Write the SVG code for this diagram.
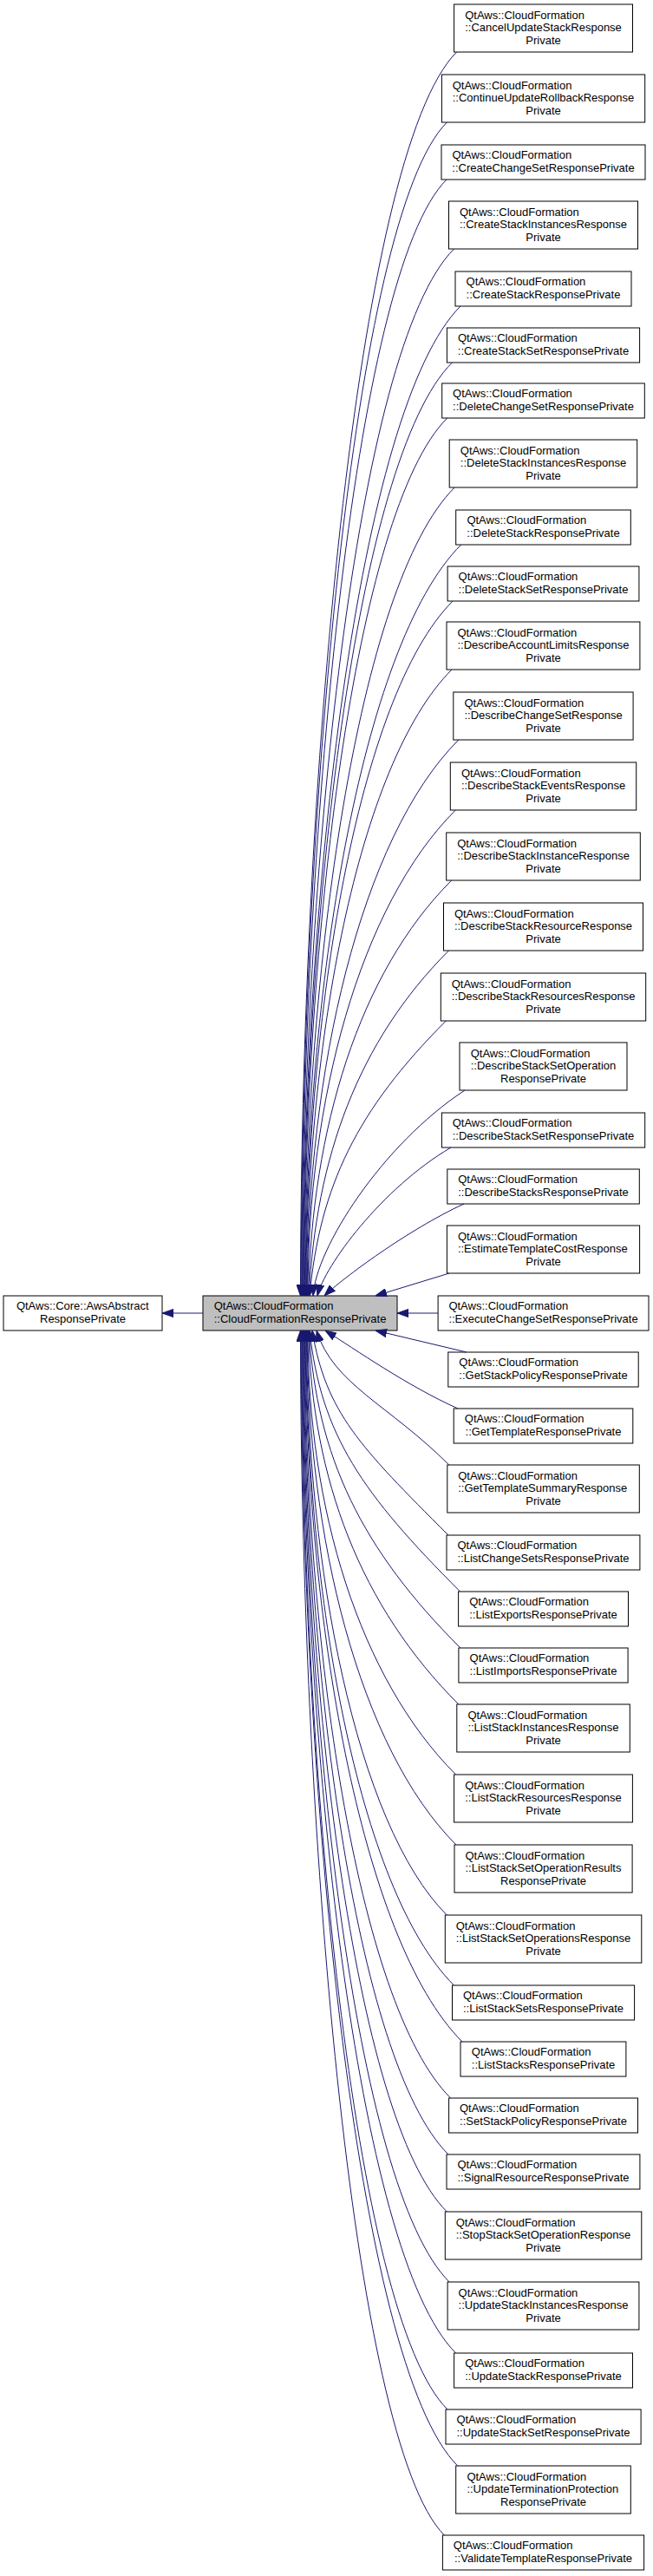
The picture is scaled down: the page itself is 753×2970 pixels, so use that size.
<svg xmlns="http://www.w3.org/2000/svg" width="753" height="2970" viewBox="0 0 753 2970">
<style>
.n rect{fill:#ffffff;stroke:#000000;stroke-width:1}
.n.c rect{fill:#bfbfbf}
text{font-family:"Liberation Sans",Arial,Helvetica,sans-serif;font-size:13px;fill:#000000}
.m{text-anchor:middle}
#edges path{fill:none;stroke:#191970;stroke-width:1;marker-end:url(#ah)}
</style>
<defs>
<marker id="ah" viewBox="0 0 13 10" refX="13" refY="5" markerWidth="13" markerHeight="10" markerUnits="userSpaceOnUse" orient="auto"><path d="M0,0.4 L13,5 L0,9.6 Z" fill="#191970" stroke="#191970" stroke-width="1"/></marker>
</defs>
<rect width="753" height="2970" fill="#ffffff"/>

<g id="base" class="n"><rect x="4" y="1494" width="183" height="40"/><text x="18.9" y="1510.25">QtAws::Core::AwsAbstract</text><text class="m" x="95.5" y="1524.75">ResponsePrivate</text></g>
<g id="center" class="n c"><rect x="234" y="1494" width="224" height="40"/><text x="246.7" y="1510.25">QtAws::CloudFormation</text><text x="246.7" y="1524.75">::CloudFormationResponsePrivate</text></g>

<g id="n1" class="n"><rect x="523.6" y="5" width="205.9" height="55"/><text x="536.2" y="21.5">QtAws::CloudFormation</text><text x="536.2" y="36">::CancelUpdateStackResponse</text><text class="m" x="626.5" y="50.5">Private</text></g>
<g id="n2" class="n"><rect x="509.4" y="86" width="234.3" height="55"/><text x="521.7" y="102.5">QtAws::CloudFormation</text><text x="521.7" y="117">::ContinueUpdateRollbackResponse</text><text class="m" x="626.5" y="131.5">Private</text></g>
<g id="n3" class="n"><rect x="509" y="167" width="235" height="40"/><text x="521.4" y="183.25">QtAws::CloudFormation</text><text class="m" x="626.5" y="197.75">::CreateChangeSetResponsePrivate</text></g>
<g id="n4" class="n"><rect x="517.5" y="232" width="218" height="55"/><text x="530" y="248.5">QtAws::CloudFormation</text><text x="530" y="263">::CreateStackInstancesResponse</text><text class="m" x="626.5" y="277.5">Private</text></g>
<g id="n5" class="n"><rect x="525" y="313" width="203" height="40"/><text x="537.6" y="329.25">QtAws::CloudFormation</text><text class="m" x="626.5" y="343.75">::CreateStackResponsePrivate</text></g>
<g id="n6" class="n"><rect x="515.4" y="378" width="222.2" height="40"/><text x="527.9" y="394.25">QtAws::CloudFormation</text><text class="m" x="626.5" y="408.75">::CreateStackSetResponsePrivate</text></g>
<g id="n7" class="n"><rect x="509.7" y="442" width="233.6" height="40"/><text x="522.1" y="458.25">QtAws::CloudFormation</text><text class="m" x="626.5" y="472.75">::DeleteChangeSetResponsePrivate</text></g>
<g id="n8" class="n"><rect x="518.2" y="507" width="216.5" height="55"/><text x="530.8" y="523.5">QtAws::CloudFormation</text><text x="530.8" y="538">::DeleteStackInstancesResponse</text><text class="m" x="626.5" y="552.5">Private</text></g>
<g id="n9" class="n"><rect x="525.7" y="588" width="201.6" height="40"/><text x="538.4" y="604.25">QtAws::CloudFormation</text><text class="m" x="626.5" y="618.75">::DeleteStackResponsePrivate</text></g>
<g id="n10" class="n"><rect x="516.1" y="653" width="220.8" height="40"/><text x="528.6" y="669.25">QtAws::CloudFormation</text><text class="m" x="626.5" y="683.75">::DeleteStackSetResponsePrivate</text></g>
<g id="n11" class="n"><rect x="515" y="717" width="222.9" height="55"/><text x="527.5" y="733.5">QtAws::CloudFormation</text><text x="527.5" y="748">::DescribeAccountLimitsResponse</text><text class="m" x="626.5" y="762.5">Private</text></g>
<g id="n12" class="n"><rect x="522.8" y="798" width="207.3" height="55"/><text x="535.5" y="814.5">QtAws::CloudFormation</text><text x="535.5" y="829">::DescribeChangeSetResponse</text><text class="m" x="626.5" y="843.5">Private</text></g>
<g id="n13" class="n"><rect x="519.3" y="879" width="214.4" height="55"/><text x="531.9" y="895.5">QtAws::CloudFormation</text><text x="531.9" y="910">::DescribeStackEventsResponse</text><text class="m" x="626.5" y="924.5">Private</text></g>
<g id="n14" class="n"><rect x="514.7" y="960" width="223.6" height="55"/><text x="527.2" y="976.5">QtAws::CloudFormation</text><text x="527.2" y="991">::DescribeStackInstanceResponse</text><text class="m" x="626.5" y="1005.5">Private</text></g>
<g id="n15" class="n"><rect x="511.5" y="1041" width="230" height="55"/><text x="523.9" y="1057.5">QtAws::CloudFormation</text><text x="523.9" y="1072">::DescribeStackResourceResponse</text><text class="m" x="626.5" y="1086.5">Private</text></g>
<g id="n16" class="n"><rect x="508.3" y="1122" width="236.4" height="55"/><text x="520.7" y="1138.5">QtAws::CloudFormation</text><text x="520.7" y="1153">::DescribeStackResourcesResponse</text><text class="m" x="626.5" y="1167.5">Private</text></g>
<g id="n17" class="n"><rect x="530" y="1202" width="193" height="55"/><text x="542.7" y="1218.5">QtAws::CloudFormation</text><text x="542.7" y="1233">::DescribeStackSetOperation</text><text class="m" x="626.5" y="1247.5">ResponsePrivate</text></g>
<g id="n18" class="n"><rect x="509.4" y="1283" width="234.3" height="40"/><text x="521.7" y="1299.25">QtAws::CloudFormation</text><text class="m" x="626.5" y="1313.75">::DescribeStackSetResponsePrivate</text></g>
<g id="n19" class="n"><rect x="515.8" y="1348" width="221.5" height="40"/><text x="528.2" y="1364.25">QtAws::CloudFormation</text><text class="m" x="626.5" y="1378.75">::DescribeStacksResponsePrivate</text></g>
<g id="n20" class="n"><rect x="515.4" y="1413" width="222.2" height="55"/><text x="527.9" y="1429.5">QtAws::CloudFormation</text><text x="527.9" y="1444">::EstimateTemplateCostResponse</text><text class="m" x="626.5" y="1458.5">Private</text></g>
<g id="n21" class="n"><rect x="505.1" y="1494" width="242.9" height="40"/><text x="517.4" y="1510.25">QtAws::CloudFormation</text><text class="m" x="626.5" y="1524.75">::ExecuteChangeSetResponsePrivate</text></g>
<g id="n22" class="n"><rect x="516.8" y="1559" width="219.4" height="40"/><text x="529.3" y="1575.25">QtAws::CloudFormation</text><text class="m" x="626.5" y="1589.75">::GetStackPolicyResponsePrivate</text></g>
<g id="n23" class="n"><rect x="523.2" y="1624" width="206.6" height="40"/><text x="535.8" y="1640.25">QtAws::CloudFormation</text><text class="m" x="626.5" y="1654.75">::GetTemplateResponsePrivate</text></g>
<g id="n24" class="n"><rect x="515.8" y="1689" width="221.5" height="55"/><text x="528.2" y="1705.5">QtAws::CloudFormation</text><text x="528.2" y="1720">::GetTemplateSummaryResponse</text><text class="m" x="626.5" y="1734.5">Private</text></g>
<g id="n25" class="n"><rect x="515" y="1770" width="222.9" height="40"/><text x="527.5" y="1786.25">QtAws::CloudFormation</text><text class="m" x="626.5" y="1800.75">::ListChangeSetsResponsePrivate</text></g>
<g id="n26" class="n"><rect x="528.6" y="1835" width="195.9" height="40"/><text x="541.2" y="1851.25">QtAws::CloudFormation</text><text class="m" x="626.5" y="1865.75">::ListExportsResponsePrivate</text></g>
<g id="n27" class="n"><rect x="528.9" y="1900" width="195.2" height="40"/><text x="541.6" y="1916.25">QtAws::CloudFormation</text><text class="m" x="626.5" y="1930.75">::ListImportsResponsePrivate</text></g>
<g id="n28" class="n"><rect x="526.8" y="1965" width="199.5" height="55"/><text x="539.4" y="1981.5">QtAws::CloudFormation</text><text x="539.4" y="1996">::ListStackInstancesResponse</text><text class="m" x="626.5" y="2010.5">Private</text></g>
<g id="n29" class="n"><rect x="523.6" y="2046" width="205.8" height="55"/><text x="536.2" y="2062.5">QtAws::CloudFormation</text><text x="536.2" y="2077">::ListStackResourcesResponse</text><text class="m" x="626.5" y="2091.5">Private</text></g>
<g id="n30" class="n"><rect x="524" y="2127" width="205.1" height="55"/><text x="536.5" y="2143.5">QtAws::CloudFormation</text><text x="536.5" y="2158">::ListStackSetOperationResults</text><text class="m" x="626.5" y="2172.5">ResponsePrivate</text></g>
<g id="n31" class="n"><rect x="513.3" y="2208" width="226.5" height="55"/><text x="525.7" y="2224.5">QtAws::CloudFormation</text><text x="525.7" y="2239">::ListStackSetOperationsResponse</text><text class="m" x="626.5" y="2253.5">Private</text></g>
<g id="n32" class="n"><rect x="521.5" y="2289" width="210.1" height="40"/><text x="534" y="2305.25">QtAws::CloudFormation</text><text class="m" x="626.5" y="2319.75">::ListStackSetsResponsePrivate</text></g>
<g id="n33" class="n"><rect x="531" y="2354" width="190.9" height="40"/><text x="543.8" y="2370.25">QtAws::CloudFormation</text><text class="m" x="626.5" y="2384.75">::ListStacksResponsePrivate</text></g>
<g id="n34" class="n"><rect x="517.6" y="2419" width="217.9" height="40"/><text x="530" y="2435.25">QtAws::CloudFormation</text><text class="m" x="626.5" y="2449.75">::SetStackPolicyResponsePrivate</text></g>
<g id="n35" class="n"><rect x="515" y="2484" width="222.9" height="40"/><text x="527.5" y="2500.25">QtAws::CloudFormation</text><text class="m" x="626.5" y="2514.75">::SignalResourceResponsePrivate</text></g>
<g id="n36" class="n"><rect x="513.3" y="2550" width="226.5" height="55"/><text x="525.7" y="2566.5">QtAws::CloudFormation</text><text x="525.7" y="2581">::StopStackSetOperationResponse</text><text class="m" x="626.5" y="2595.5">Private</text></g>
<g id="n37" class="n"><rect x="516.1" y="2631" width="220.8" height="55"/><text x="528.6" y="2647.5">QtAws::CloudFormation</text><text x="528.6" y="2662">::UpdateStackInstancesResponse</text><text class="m" x="626.5" y="2676.5">Private</text></g>
<g id="n38" class="n"><rect x="523.6" y="2713" width="205.9" height="40"/><text x="536.2" y="2729.25">QtAws::CloudFormation</text><text class="m" x="626.5" y="2743.75">::UpdateStackResponsePrivate</text></g>
<g id="n39" class="n"><rect x="514" y="2778" width="225.1" height="40"/><text x="526.4" y="2794.25">QtAws::CloudFormation</text><text class="m" x="626.5" y="2808.75">::UpdateStackSetResponsePrivate</text></g>
<g id="n40" class="n"><rect x="525.7" y="2843" width="201.6" height="55"/><text x="538.4" y="2859.5">QtAws::CloudFormation</text><text x="538.4" y="2874">::UpdateTerminationProtection</text><text class="m" x="626.5" y="2888.5">ResponsePrivate</text></g>
<g id="n41" class="n"><rect x="510.4" y="2923" width="232.2" height="40"/><text x="522.8" y="2939.25">QtAws::CloudFormation</text><text class="m" x="626.5" y="2953.75">::ValidateTemplateResponsePrivate</text></g>

<g id="edges">
<path d="M234,1514 L187,1514"/>
<path d="M526.6,60 C409.5,177.1 346.5,920.4 346.5,1494"/>
<path d="M515.4,141 C406.1,250.3 347.2,952.8 347.2,1494"/>
<path d="M515,207 C406.4,315.6 347.9,979.2 347.9,1494"/>
<path d="M523.5,287 C409.8,400.7 348.6,1011.2 348.6,1494"/>
<path d="M531,353 C412.9,471.1 349.3,1037.6 349.3,1494"/>
<path d="M521.4,418 C410,529.4 350,1063.6 350,1494"/>
<path d="M515.7,482 C408.4,589.3 350.7,1089.2 350.7,1494"/>
<path d="M524.2,562 C411.9,674.3 351.4,1121.2 351.4,1494"/>
<path d="M531.7,628 C415,744.7 352.1,1147.6 352.1,1494"/>
<path d="M522.1,693 C412.1,803 352.8,1173.6 352.8,1494"/>
<path d="M521,772 C412.1,880.9 353.5,1205.2 353.5,1494"/>
<path d="M528.8,853 C415.3,966.5 354.2,1237.6 354.2,1494"/>
<path d="M525.3,934 C414.5,1044.8 354.9,1270 354.9,1494"/>
<path d="M520.7,1015 C413.4,1122.3 359.7,1302.4 355.6,1494"/>
<path d="M517.5,1096 C412.7,1200.8 364.4,1334.8 356.3,1494"/>
<path d="M514.3,1177 C412.1,1279.2 368.8,1367.2 357,1494"/>
<path d="M536,1257 C440,1320 364,1440 361,1494"/>
<path d="M520,1323 C440,1370 374,1460 366,1494"/>
<path d="M535,1388 C470,1418 395,1474 374,1494"/>
<path d="M518,1468 L433,1494"/>
<path d="M505.1,1514 L458,1514"/>
<path d="M538,1559 L433,1534"/>
<path d="M528,1624 C470,1598 410,1556 375,1534"/>
<path d="M517.8,1689 C448.1,1619.3 384.1,1596 365,1534"/>
<path d="M517,1770 C414.9,1667.9 375.7,1628.4 360,1534"/>
<path d="M530.6,1835 C417.8,1722.2 370,1654.4 357,1534"/>
<path d="M530.9,1900 C417.4,1786.5 365,1680.4 356.3,1534"/>
<path d="M528.8,1965 C416.2,1852.4 359.9,1706.4 355.6,1534"/>
<path d="M525.6,2046 C414.6,1935 354.9,1738.8 354.9,1534"/>
<path d="M526,2127 C414.3,2015.3 354.2,1771.2 354.2,1534"/>
<path d="M515.3,2208 C410.1,2102.8 353.5,1803.6 353.5,1534"/>
<path d="M523.5,2289 C412.5,2178 352.8,1836 352.8,1534"/>
<path d="M533,2354 C415.4,2236.4 352.1,1862 352.1,1534"/>
<path d="M519.6,2419 C410.3,2309.7 351.4,1888 351.4,1534"/>
<path d="M517,2484 C408.9,2375.9 350.7,1914 350.7,1534"/>
<path d="M515.3,2550 C407.9,2442.6 350,1940.4 350,1534"/>
<path d="M518.1,2631 C408.4,2521.3 349.3,1972.8 349.3,1534"/>
<path d="M525.6,2713 C410.5,2597.9 348.6,2005.6 348.6,1534"/>
<path d="M516,2778 C406.7,2668.7 347.9,2031.6 347.9,1534"/>
<path d="M527.7,2843 C410.4,2725.7 347.2,2057.6 347.2,1534"/>
<path d="M512.4,2923 C404.6,2815.2 346.5,2089.6 346.5,1534"/>
</g>
</svg>
